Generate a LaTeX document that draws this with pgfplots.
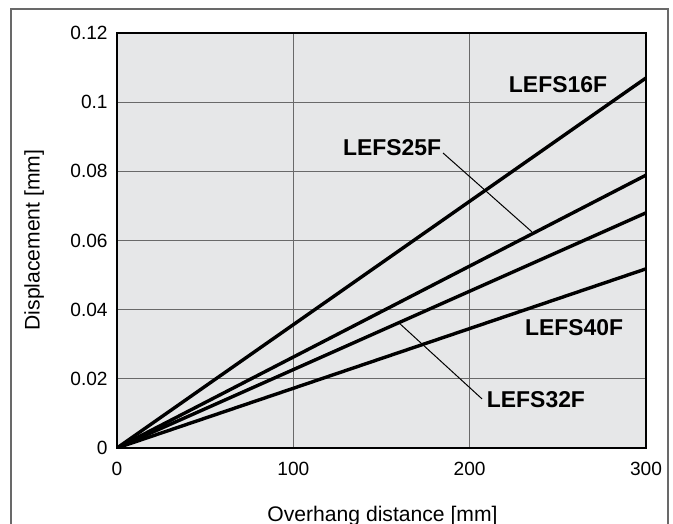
\documentclass[border=0pt]{standalone}
\usepackage{pgfplots}
\pgfplotsset{compat=1.18}
\usepackage{fontspec}
\setmainfont{Liberation Sans}
\definecolor{bgc}{RGB}{230,231,232}
\definecolor{gridc}{RGB}{105,105,105}
\tikzset{curve/.style={black, line width=1.7bp, mark=none}}
\begin{document}
\begin{tikzpicture}
\useasboundingbox (0,0) rectangle (336.5bp,262bp);
\draw[gridc, line width=0.6bp] (5.5bp,-2bp) -- (5.5bp,257.5bp) -- (334bp,257.5bp) -- (334bp,-2bp);
\begin{axis}[
  at={(58.5bp,38bp)}, anchor=south west,
  scale only axis, width=264.5bp, height=207.5bp,
  xmin=0, xmax=300, ymin=0, ymax=0.12,
  xtick={0,100,200,300},
  ytick={0,0.02,0.04,0.06,0.08,0.1,0.12},
  yticklabels={0,0.02,0.04,0.06,0.08,0.1,0.12},
  scaled y ticks=false,
  axis background/.style={fill=bgc},
  grid=major,
  major grid style={gridc, line width=0.6bp},
  major tick length=0pt,
  axis line style={black, line width=0.6bp},
  tick label style={font=\fontsize{9.6}{11}\selectfont},
  /pgf/number format/assume math mode=true,
  xticklabel style={inner sep=0pt, yshift=-7bp},
  yticklabel style={inner sep=0pt, xshift=-4.5bp},
]
\addplot[curve] coordinates {(0,0) (300,0.107)};
\addplot[curve] coordinates {(0,0) (300,0.0789)};
\addplot[curve] coordinates {(0,0) (300,0.068)};
\addplot[curve] coordinates {(0,0) (300,0.0518)};
\draw[black, line width=0.5bp] (axis cs:184.9,0.0853) -- (axis cs:235.3,0.0625);
\draw[black, line width=0.5bp] (axis cs:207.0,0.0142) -- (axis cs:160.5,0.0359);
\begin{scope}[every node/.style={font=\fontsize{11.5}{13}\selectfont\bfseries, inner sep=0pt}]
\node at (axis cs:250.1,0.1052) {LEFS16F};
\node at (axis cs:156.0,0.0870) {LEFS25F};
\node at (axis cs:259.2,0.0347) {LEFS40F};
\node at (axis cs:237.6,0.0139) {LEFS32F};
\end{scope}
\end{axis}
\node[anchor=base, inner sep=0pt, font=\fontsize{10.6}{12}\selectfont] at (191.25bp,1.25bp) {Overhang distance [mm]};
\node[anchor=base, rotate=90, inner sep=0pt, font=\fontsize{10.6}{12}\selectfont] at (19.75bp,142bp) {Displacement [mm]};
\end{tikzpicture}
\end{document}
